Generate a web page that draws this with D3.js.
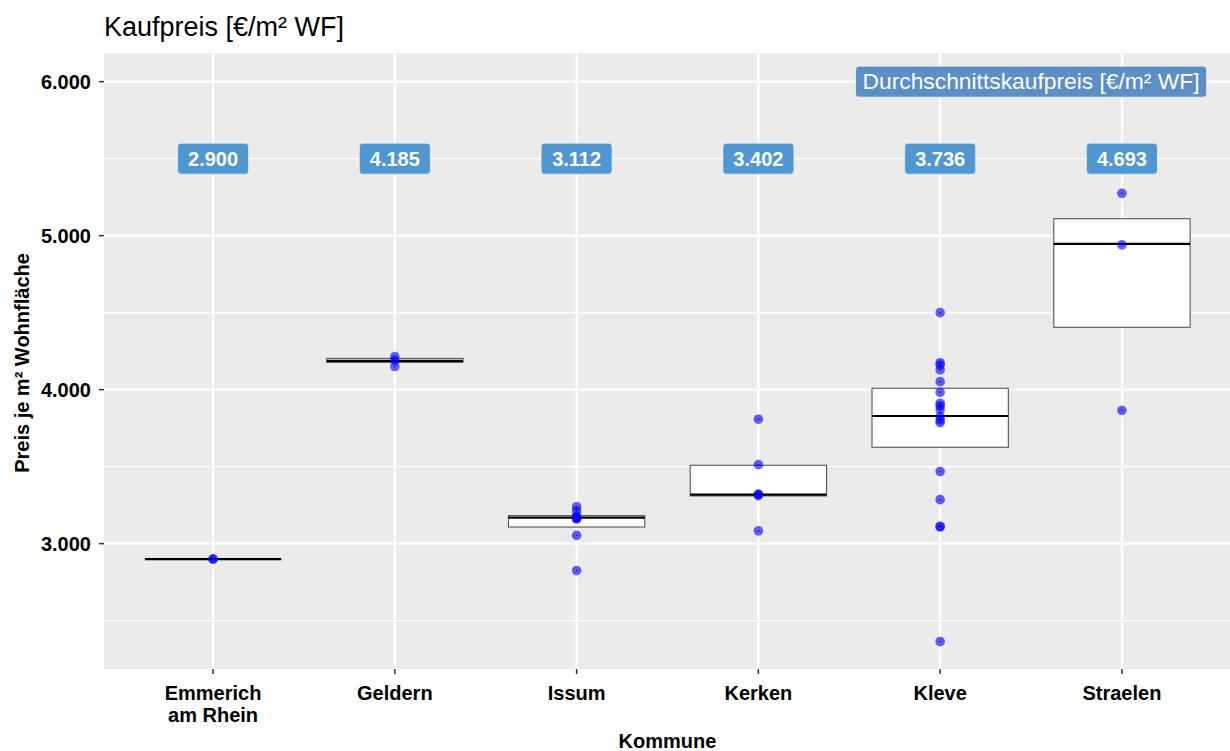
<!DOCTYPE html>
<html><head><meta charset="utf-8">
<script src="https://cdn.jsdelivr.net/npm/d3@7"></script>
<style>body{margin:0;background:#fff;} text{font-family:"Liberation Sans",Arial,sans-serif;}</style>
</head><body>
<svg id="c" width="1230" height="751"></svg>
<script>
const categories = ["Emmerich am Rhein","Geldern","Issum","Kerken","Kleve","Straelen"];
const categoryLabels = [["Emmerich","am Rhein"],["Geldern"],["Issum"],["Kerken"],["Kleve"],["Straelen"]];
const meanValues = [2900, 4185, 3112, 3402, 3736, 4693];
const meanLabels = ["2.900","4.185","3.112","3.402","3.736","4.693"];
const q1Values = [2900, 4177, 3108, 3310, 3626, 4405];
const medianValues = [2900, 4187, 3169, 3318, 3829, 4946];
const q3Values = [2900, 4203, 3182, 3509, 4009, 5110];
const pointsEmmerich = [2900, 2900];
const pointsGeldern = [4215, 4190, 4150];
const pointsIssum = [3240, 3212, 3178, 3170, 3165, 3160, 3054, 2825];
const pointsKerken = [3808, 3513, 3322, 3318, 3312, 3083];
const pointsKleve = [4500, 4175, 4160, 4128, 4052, 3983, 3912, 3894, 3870, 3825, 3803, 3786, 3468, 3286, 3113, 3108, 2364];
const pointsStraelen = [5275, 4940, 3865];
const pointSets = [pointsEmmerich, pointsGeldern, pointsIssum, pointsKerken, pointsKleve, pointsStraelen];
const yTicks = [3000, 4000, 5000, 6000];
const yTickLabels = ["3.000","4.000","5.000","6.000"];
const yMinor = [2500, 3500, 4500, 5500];
const labelY = 5500;
const legendValue = 6000;
const titleText = "Kaufpreis [€/m² WF]";
const legendText = "Durchschnittskaufpreis [€/m² WF]";
const yTitle = "Preis je m² Wohnfläche";
const xTitle = "Kommune";

const svg = d3.select("#c");
const L = 104, R = 1231, T = 53, B = 669;
const x = d3.scalePoint().domain(categories).range([L, R]).padding(0.6);
const y = d3.scaleLinear().domain([2186, 6186]).range([B, T]);
const bw = x.step() * 0.75;

svg.append("rect").attr("x", L).attr("y", T).attr("width", R - L).attr("height", B - T).attr("fill", "#EBEBEB");
const g = svg.append("g");
yMinor.forEach(v => g.append("line").attr("x1", L).attr("x2", R).attr("y1", y(v)).attr("y2", y(v)).attr("stroke", "#fff").attr("stroke-width", 1.1));
yTicks.forEach(v => g.append("line").attr("x1", L).attr("x2", R).attr("y1", y(v)).attr("y2", y(v)).attr("stroke", "#fff").attr("stroke-width", 2.2));
categories.forEach(c => g.append("line").attr("x1", x(c)).attr("x2", x(c)).attr("y1", T).attr("y2", B).attr("stroke", "#fff").attr("stroke-width", 2.2));

// boxes
categories.forEach((c, i) => {
  const cx = x(c);
  const top = y(q3Values[i]), bot = y(q1Values[i]);
  g.append("rect").attr("x", cx - bw / 2).attr("y", top).attr("width", bw).attr("height", Math.max(0, bot - top))
    .attr("fill", "#fff").attr("stroke", "#555").attr("stroke-width", 1.1);
  g.append("line").attr("x1", cx - bw / 2).attr("x2", cx + bw / 2).attr("y1", y(medianValues[i])).attr("y2", y(medianValues[i]))
    .attr("stroke", "#000").attr("stroke-width", 2.2);
});

// points
categories.forEach((c, i) => {
  pointSets[i].forEach(v => {
    g.append("circle").attr("cx", x(c)).attr("cy", y(v)).attr("r", 4.8).attr("fill", "#0000FF").attr("fill-opacity", 0.62);
    g.append("circle").attr("cx", x(c)).attr("cy", y(v)).attr("r", 0.9).attr("fill", "#111166").attr("fill-opacity", 0.8);
  });
});

// mean labels
categories.forEach((c, i) => {
  g.append("rect").attr("x", x(c) - 35.5).attr("y", y(labelY) - 15.5).attr("width", 71).attr("height", 31)
    .attr("rx", 3.5).attr("fill", "#5096D0").attr("stroke", "#fff").attr("stroke-width", 0.6);
  g.append("text").attr("x", x(c)).attr("y", y(labelY) + 7).attr("text-anchor", "middle")
    .attr("font-size", 20).attr("font-weight", "bold").attr("fill", "#fff").text(meanLabels[i]);
});
// legend label
{
  const lx = (x(categories[4]) + x(categories[5])) / 2;
  const t = g.append("text").attr("x", lx).attr("y", y(legendValue) + 7.8).attr("text-anchor", "middle")
    .attr("font-size", 22.8).attr("fill", "#fff").text(legendText);
  const w = t.node().getBBox().width;
  g.insert("rect", "text").attr("x", lx - w / 2 - 7).attr("y", y(legendValue) - 15.5).attr("width", w + 14).attr("height", 31)
    .attr("rx", 3.5).attr("fill", "#5B8FC6").attr("stroke", "#fff").attr("stroke-width", 0.6);
  t.raise();
}

// axes
yTicks.forEach((v, i) => {
  svg.append("line").attr("x1", L - 5).attr("x2", L).attr("y1", y(v)).attr("y2", y(v)).attr("stroke", "#333").attr("stroke-width", 1.5);
  svg.append("text").attr("x", L - 13).attr("y", y(v) + 7).attr("text-anchor", "end").attr("font-size", 20).attr("font-weight", "bold").attr("fill", "#000").text(yTickLabels[i]);
});
categories.forEach((c, i) => {
  svg.append("line").attr("x1", x(c)).attr("x2", x(c)).attr("y1", B).attr("y2", B + 5).attr("stroke", "#333").attr("stroke-width", 1.5);
  const t = svg.append("text").attr("x", x(c)).attr("y", 700).attr("text-anchor", "middle").attr("font-size", 20).attr("font-weight", "bold").attr("fill", "#000");
  categoryLabels[i].forEach((ln, j) => t.append("tspan").attr("x", x(c)).attr("dy", j === 0 ? 0 : 22).text(ln));
});
svg.append("text").attr("x", (L + R) / 2).attr("y", 748).attr("text-anchor", "middle").attr("font-size", 20).attr("font-weight", "bold").text(xTitle);
svg.append("text").attr("transform", `translate(29,${(T + B) / 2 + 2}) rotate(-90)`).attr("text-anchor", "middle").attr("font-size", 20).attr("font-weight", "bold").text(yTitle);
svg.append("text").attr("x", L).attr("y", 36).attr("font-size", 27).attr("fill", "#000").text(titleText);
</script>
</body></html>
